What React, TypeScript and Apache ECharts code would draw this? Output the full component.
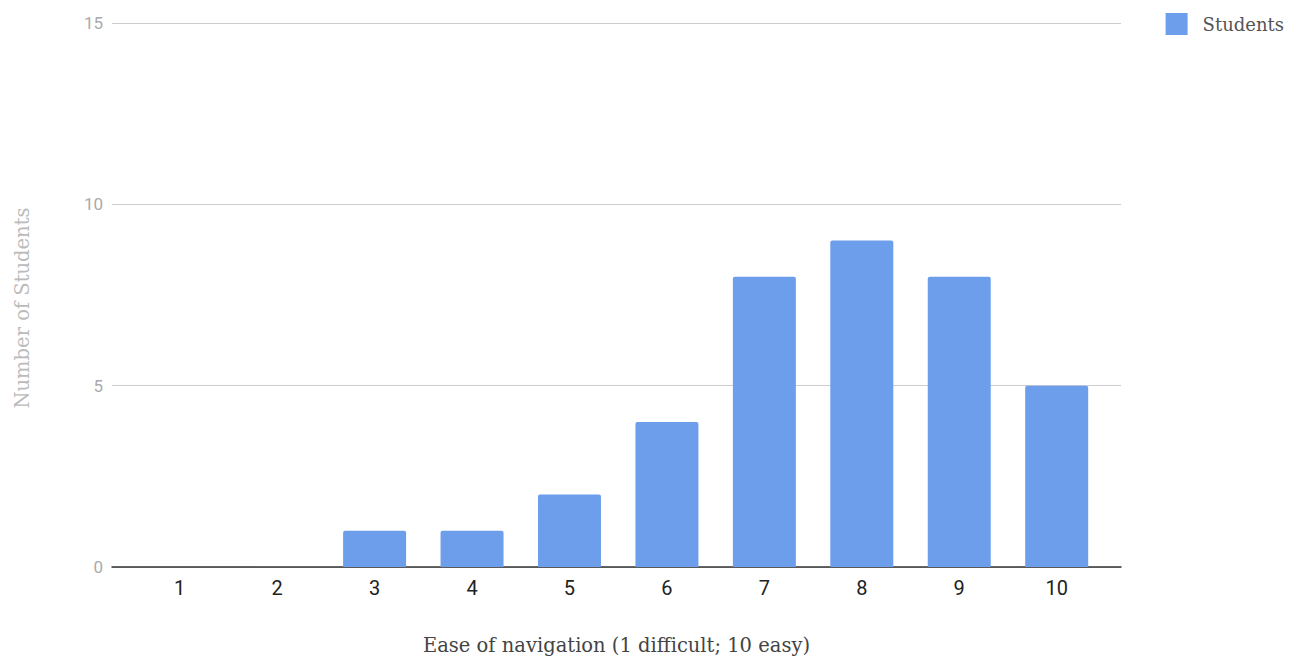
import React, { useEffect, useRef } from "react";
import * as echarts from "echarts";

const categories = [1, 2, 3, 4, 5, 6, 7, 8, 9, 10];
const students = [0, 0, 1, 1, 2, 4, 8, 9, 8, 5];
const yTicks = [0, 5, 10, 15];
const seriesName = "Students";
const xTitle = "Ease of navigation (1 difficult; 10 easy)";
const yTitle = "Number of Students";

export default function App() {
  const ref = useRef<HTMLDivElement>(null);
  useEffect(() => {
    if (!ref.current) return;
    const chart = echarts.init(ref.current, null, { renderer: "svg" });
    chart.setOption({
      animation: false,
      backgroundColor: "#ffffff",
      grid: { left: 112, right: 175, top: 23, bottom: 93, containLabel: false },
      legend: {
        data: [seriesName],
        right: 12,
        top: 13,
        padding: 0,
        itemWidth: 22,
        itemHeight: 22,
        itemGap: 10,
        icon: "rect",
        textStyle: { fontFamily: "DejaVu Serif", fontSize: 18, color: "#555", padding: [0, 0, 0, 10] },
      },
      xAxis: {
        type: "value",
        min: 0.305,
        max: 10.66,
        name: xTitle,
        nameLocation: "middle",
        nameGap: 68,
        nameTextStyle: { fontFamily: "DejaVu Serif", fontSize: 19.5, color: "#444" },
        axisLine: { show: true, onZero: false, lineStyle: { color: "#333", width: 1.5 } },
        axisTick: { show: false },
        splitLine: { show: false },
        axisLabel: {
          customValues: categories,
          formatter: (v: number) => String(v),
          fontFamily: "Roboto",
          fontSize: 20,
          color: "#222",
          margin: 11,
        },
      },
      yAxis: {
        type: "value",
        min: 0,
        max: 15,
        interval: 5,
        name: yTitle,
        nameLocation: "middle",
        nameGap: 80,
        nameTextStyle: { fontFamily: "DejaVu Serif", fontSize: 19.5, color: "#bbb", padding: [0, 26, 0, 0] },
        axisLine: { show: false },
        axisTick: { show: false },
        splitLine: { lineStyle: { color: "#ccc", width: 1 } },
        axisLabel: {
          customValues: yTicks,
          fontFamily: "Roboto",
          fontSize: 17,
          color: "#aaa",
          margin: 9,
        },
      },
      series: [
        {
          name: seriesName,
          type: "bar",
          data: categories.map((c, i) => [c, students[i]]),
          barWidth: 63,
          itemStyle: { color: "#6d9eeb", borderRadius: [2, 2, 0, 0] },
        },
      ],
    });
    return () => chart.dispose();
  }, []);
  return (
    <div
      ref={ref}
      style={{ position: "fixed", left: 0, top: 0, width: 1296, height: 660 }}
    />
  );
}
